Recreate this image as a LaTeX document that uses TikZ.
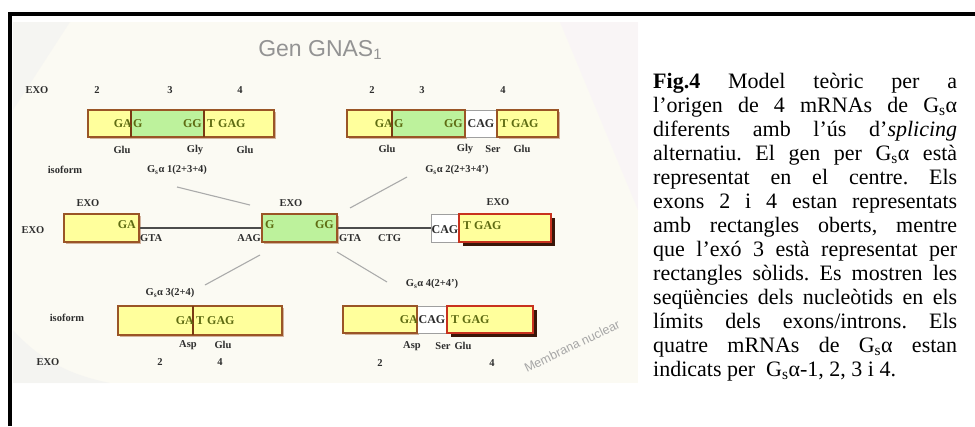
\documentclass[tikz,border=0pt]{standalone}
\usepackage{fontspec}
\setmainfont{Liberation Serif}
\newfontfamily\sansf{Liberation Sans}
\pgfdeclarelayer{back}
\pgfdeclarelayer{shade}
\pgfsetlayers{back,shade,main}
\definecolor{exy}{HTML}{FFFF9C}
\definecolor{exg}{HTML}{BDF29C}
\definecolor{exb}{HTML}{9A5526}
\definecolor{exdiv}{HTML}{7A3A12}
\definecolor{exr}{HTML}{C8321E}
\definecolor{exsh}{HTML}{3A1608}
\definecolor{seqc}{HTML}{5E6B12}
\definecolor{lblc}{HTML}{2E2E2E}
\definecolor{bgc}{HTML}{FBFAF3}
\definecolor{connc}{HTML}{ABABAB}
\definecolor{titc}{HTML}{939393}
\frenchspacing
\begin{document}
\begin{tikzpicture}[x=1pt,y=-1pt,
  seg/.style={inner sep=0pt, outer sep=0pt, anchor=north west, draw=none},
  exbox/.style={draw=exb, line width=1.6pt},
  exdivl/.style={draw=exdiv, line width=1.6pt},
  redbox/.style={draw=exr, line width=1.8pt},
  wbox/.style={draw=gray!75, line width=0.8pt},
  bshadow/.style={fill=exb!45},
  dshadow/.style={fill=exsh},
  seq/.style={font=\bfseries\fontsize{12}{12}\selectfont, text=seqc, inner sep=0pt},
  lbl/.style={font=\bfseries\fontsize{10.5}{10.5}\selectfont, text=lblc, inner sep=0pt},
  intron/.style={draw=gray!60!black, line width=1.2pt},
  conn/.style={draw=connc, line width=1.1pt}]
\useasboundingbox (0,0) rectangle (975,426);
% background of figure
\begin{pgfonlayer}{back}
\fill[bgc] (13,22) rectangle (638,383);
\fill[gray!10, opacity=0.6] (13,22) -- (70,22) -- (13,110) -- cycle;
\fill[gray!12, opacity=0.6] (13,330) .. controls (40,360) and (70,375) .. (110,383) -- (13,383) -- cycle;
\fill[violet!5, opacity=0.6] (560,22) -- (638,22) -- (638,210) -- cycle;
\end{pgfonlayer}
% frame
\draw[line width=4pt] (9.5,426) -- (9.5,13.5) -- (975,13.5);
% title
\node[font=\sansf\fontsize{23}{23}\selectfont, text=titc, inner sep=0pt] (title) at (320,50) {Gen GNAS\raisebox{-3pt}{\fontsize{15}{15}\selectfont 1}};

% ===== isoform 1 (top left)
\node[lbl] (exo1) at (37,90) {EXO};
\node[lbl] (n1a) at (97,90) {2};
\node[lbl] (n1b) at (170,90) {3};
\node[lbl] (n1c) at (240,90) {4};
\node[seg, fill=exy, minimum width=43, minimum height=27] (a1) at (88,110) {};
\node[seg, fill=exg, minimum width=73, minimum height=27] (a2) at (a1.north east) {};
\node[seg, fill=exy, minimum width=70, minimum height=27] (a3) at (a2.north east) {};
\begin{pgfonlayer}{shade}
\fill[bshadow] ([shift={(1.5,1.5)}]a1.north west) rectangle ([shift={(1.5,1.5)}]a3.south east);
\end{pgfonlayer}
\draw[exbox] (a1.north west) rectangle (a3.south east);
\draw[exdivl] (a1.north east) -- (a1.south east);
\draw[exdivl] (a2.north east) -- (a2.south east);
\node[seq, anchor=east] (a1t) at ([xshift=1]a1.east) {GA};
\node[seq, anchor=west] (a2t) at ([xshift=2]a2.west) {G};
\node[seq, anchor=east] (a2u) at ([xshift=-2]a2.east) {GG};
\node[seq, anchor=west] (a3t) at ([xshift=3]a3.west) {T GAG};
\node[lbl] (aa1) at (122,150) {Glu};
\node[lbl] (aa2) at (195,150) {Gly};
\node[lbl] (aa3) at (245,150) {Glu};
\node[lbl] (iso1) at (65,170) {isoform};
\node[lbl] (gs1) at (177,170) {G\textsubscript{s}α 1(2+3+4)};

% ===== isoform 2 (top right)
\node[lbl] (n2a) at (372,90) {2};
\node[lbl] (n2b) at (422,90) {3};
\node[lbl] (n2c) at (503,90) {4};
\node[seg, fill=exy, minimum width=45, minimum height=27] (b1) at (347,110) {};
\node[seg, fill=exg, minimum width=73, minimum height=27] (b2) at (b1.north east) {};
\node[seg, fill=white, minimum width=32, minimum height=27] (b3) at (b2.north east) {};
\node[seg, fill=exy, minimum width=61, minimum height=27] (b4) at (b3.north east) {};
\begin{pgfonlayer}{shade}
\fill[bshadow] ([shift={(1.5,1.5)}]b1.north west) rectangle ([shift={(1.5,1.5)}]b2.south east);
\fill[bshadow] ([shift={(1.5,1.5)}]b4.north west) rectangle ([shift={(1.5,1.5)}]b4.south east);
\end{pgfonlayer}
\draw[wbox] (b3.north west) rectangle (b3.south east);
\draw[exbox] (b1.north west) rectangle (b2.south east);
\draw[exdivl] (b1.north east) -- (b1.south east);
\draw[exbox] (b4.north west) rectangle (b4.south east);
\node[seq, anchor=east] (b1t) at ([xshift=1]b1.east) {GA};
\node[seq, anchor=west] (b2t) at ([xshift=2]b2.west) {G};
\node[seq, anchor=east] (b2u) at ([xshift=-2]b2.east) {GG};
\node[seq, text=lblc] (b3t) at (b3.center) {CAG};
\node[seq, anchor=west] (b4t) at ([xshift=3]b4.west) {T GAG};
\node[lbl] (bb1) at (387,149) {Glu};
\node[lbl] (bb2) at (465,149) {Gly};
\node[lbl] (bb3) at (493,149) {Ser};
\node[lbl] (bb4) at (522,149) {Glu};
\node[lbl] (gs2) at (457,170) {G\textsubscript{s}α 2(2+3+4')};

% ===== gene (centre)
\node[lbl] (exoL) at (33,230) {EXO};
\node[lbl] (exo2) at (88,203) {EXO};
\node[lbl] (exo3) at (291,203) {EXO};
\node[lbl] (exo4) at (498,202) {EXO};
\node[seg, fill=exy, minimum width=75, minimum height=28] (g2) at (64,214) {};
\node[seg, fill=exg, minimum width=75, minimum height=28] (g3) at (262,214) {};
\node[seg, fill=white, minimum width=28, minimum height=28] (g4w) at (431,214) {};
\node[seg, fill=exy, minimum width=92, minimum height=28] (g4) at (g4w.north east) {};
\begin{pgfonlayer}{shade}
\fill[bshadow] ([shift={(2,2)}]g2.north west) rectangle ([shift={(2,2)}]g2.south east);
\fill[bshadow] ([shift={(2,2)}]g3.north west) rectangle ([shift={(2,2)}]g3.south east);
\fill[dshadow] ([shift={(3.5,3.5)}]g4.north west) rectangle ([shift={(3.5,3.5)}]g4.south east);
\end{pgfonlayer}
\draw[intron] (g2.east) -- (g3.west);
\draw[intron] (g3.east) -- (g4w.west);
\draw[exbox] (g2.north west) rectangle (g2.south east);
\draw[exbox] (g3.north west) rectangle (g3.south east);
\draw[wbox] (g4w.north west) rectangle (g4w.south east);
\draw[redbox] (g4.north west) rectangle (g4.south east);
\node[seq, anchor=east] (g2t) at ([shift={(-3,-3)}]g2.east) {GA};
\node[seq, anchor=west] (g3t) at ([shift={(3,-3)}]g3.west) {G};
\node[seq, anchor=east] (g3u) at ([shift={(-3,-3)}]g3.east) {GG};
\node[seq, text=lblc] (g4wt) at ([yshift=-2]g4w.center) {CAG};
\node[seq, anchor=west] (g4t) at ([shift={(4,-2)}]g4.west) {T GAG};
\node[lbl, anchor=west] (gta1) at (140,238) {GTA};
\node[lbl, anchor=east] (aag) at (261,238) {AAG};
\node[lbl, anchor=west] (gta2) at (339,238) {GTA};
\node[lbl, anchor=west] (ctg) at (378,238) {CTG};

% ===== isoform 3 (bottom left)
\node[lbl] (gs3) at (170,293) {G\textsubscript{s}α 3(2+4)};
\node[lbl] (iso3) at (67,318) {isoform};
\node[seg, fill=exy, minimum width=75, minimum height=29] (c1) at (118,306) {};
\node[seg, fill=exy, minimum width=89, minimum height=29] (c2) at (c1.north east) {};
\begin{pgfonlayer}{shade}
\fill[bshadow] ([shift={(2,2)}]c1.north west) rectangle ([shift={(2,2)}]c2.south east);
\end{pgfonlayer}
\draw[exbox] (c1.north west) rectangle (c2.south east);
\draw[exdivl] (c1.north east) -- (c1.south east);
\node[seq, anchor=east] (c1t) at ([xshift=1]c1.east) {GA};
\node[seq, anchor=west] (c2t) at ([xshift=3]c2.west) {T GAG};
\node[lbl] (cc1) at (188,345) {Asp};
\node[lbl] (cc2) at (223,345) {Glu};
\node[lbl] (exo5) at (48,362) {EXO};
\node[lbl] (n3a) at (160,362) {2};
\node[lbl] (n3b) at (220,362) {4};

% ===== isoform 4 (bottom right)
\node[lbl] (gs4) at (432,284) {G\textsubscript{s}α 4(2+4')};
\node[seg, fill=exy, minimum width=74, minimum height=27] (d1) at (343,306) {};
\node[seg, fill=white, minimum width=30, minimum height=27] (d2) at (d1.north east) {};
\node[seg, fill=exy, minimum width=86, minimum height=27] (d3) at (d2.north east) {};
\begin{pgfonlayer}{shade}
\fill[bshadow] ([shift={(2,2)}]d1.north west) rectangle ([shift={(2,2)}]d1.south east);
\fill[dshadow] ([shift={(3.5,3.5)}]d3.north west) rectangle ([shift={(3.5,3.5)}]d3.south east);
\end{pgfonlayer}
\draw[wbox] (d2.north west) rectangle (d2.south east);
\draw[exbox] (d1.north west) rectangle (d1.south east);
\draw[redbox] (d3.north west) rectangle (d3.south east);
\node[seq, anchor=east] (d1t) at ([xshift=1]d1.east) {GA};
\node[seq, text=lblc] (d2t) at (d2.center) {CAG};
\node[seq, anchor=west] (d3t) at ([xshift=4]d3.west) {T GAG};
\node[lbl] (dd1) at (412,346) {Asp};
\node[lbl] (dd2) at (443,346) {Ser};
\node[lbl] (dd3) at (463,346) {Glu};
\node[lbl] (n4a) at (380,363) {2};
\node[lbl] (n4b) at (492,363) {4};

\node[font=\sansf\fontsize{12.5}{12.5}\selectfont, text=gray!70, rotate=26, inner sep=0pt] (memb) at (572,346) {Membrana nuclear};

% ===== connectors
\coordinate (k1a) at (177,187); \coordinate (k1b) at (250,205);
\coordinate (k2a) at (350,208); \coordinate (k2b) at (407,177);
\coordinate (k3a) at (260,255); \coordinate (k3b) at (205,285);
\coordinate (k4a) at (337,252); \coordinate (k4b) at (387,282);
\draw[conn] (k1a) -- (k1b);
\draw[conn] (k2a) -- (k2b);
\draw[conn] (k3a) -- (k3b);
\draw[conn] (k4a) -- (k4b);

% ===== caption
\node[anchor=base west, text width=304pt, inner sep=0pt, align=justify,
      font=\fontsize{22}{24}\selectfont] (cap) at (653,88)
{\textbf{Fig.4} Model teòric per a\linebreak
l’origen de 4 mRNAs de G\textsubscript{s}α\linebreak
diferents amb l’ús d’\textit{splicing}\linebreak
alternatiu. El gen per G\textsubscript{s}α està\linebreak
representat en el centre. Els\linebreak
exons 2 i 4 estan representats\linebreak
amb rectangles oberts, mentre\linebreak
que l’exó 3 està representat per\linebreak
rectangles sòlids. Es mostren les\linebreak
seqüències dels nucleòtids en els\linebreak
límits dels exons/introns. Els\linebreak
quatre mRNAs de G\textsubscript{s}α estan\linebreak
indicats per\ \ G\textsubscript{s}α-1, 2, 3 i 4.};
\end{tikzpicture}
\end{document}
